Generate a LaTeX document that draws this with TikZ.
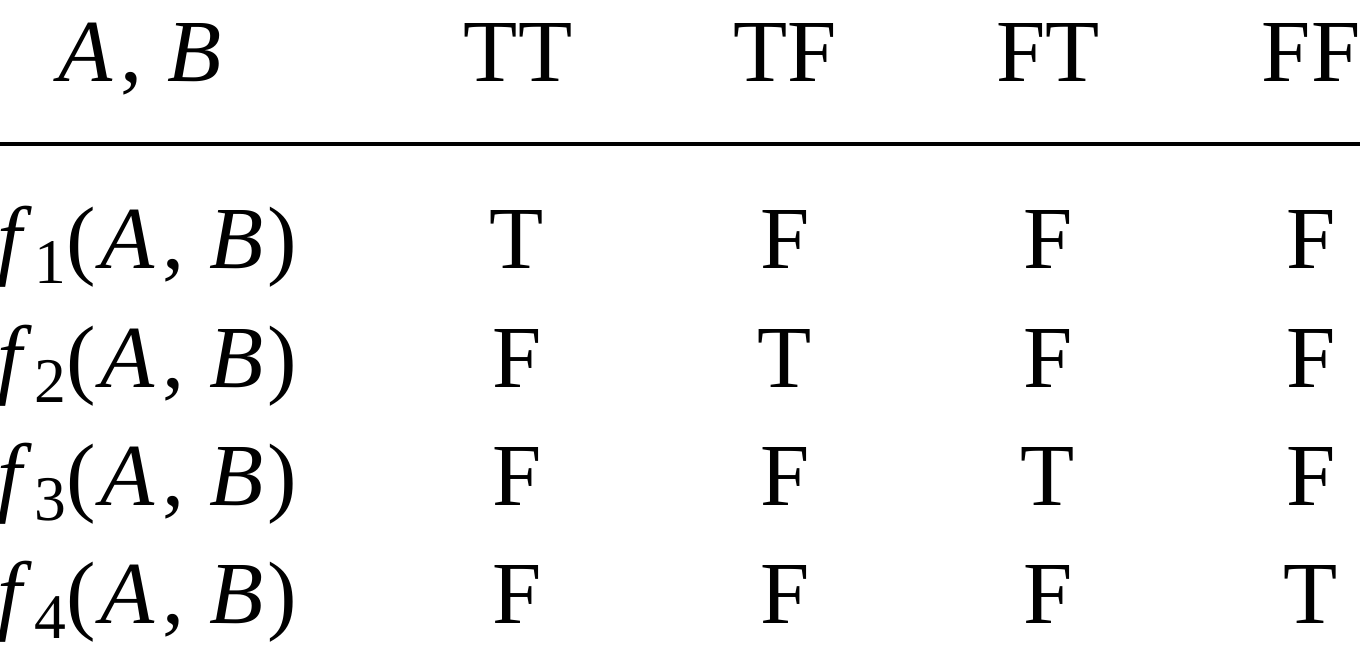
\documentclass[tikz,border=0pt]{standalone}
\usepackage{fontspec}
\setmainfont{Liberation Serif}
\usepackage{tikz}

\newcommand{\AB}{\textit{A}\kern0.08em,\kern0.28em\textit{B}}
\newcommand{\fsub}[1]{\raisebox{-0.17em}{\fontsize{18.1}{20}\selectfont #1}}
\newcommand{\fAB}[1]{\textit{f}\kern0.02em\fsub{#1}(\kern0.06em\AB\kern0.05em)}

\begin{document}
\begin{tikzpicture}[every node/.style={inner sep=0pt,anchor=base,font=\fontsize{25.2}{30}\selectfont},
    lab/.style={anchor=base west}]
    \useasboundingbox (0,0) rectangle (13.6,6.54);
    % header
    \node[lab] (AB) at (0.58,5.73) {\AB};
    \foreach \x/\lab in {5.18/TT,7.85/TF,10.48/FT,13.11/FF} {
      \node (h\lab) at (\x,5.73) {\lab};
    }
    \coordinate (ruleL) at (0,5.10);
    \coordinate (ruleR) at (13.6,5.10);
    \draw[line width=1.15pt] (ruleL) -- (ruleR);
    % rows
    \foreach \n/\y/\a/\b/\c/\d in {1/3.86/T/F/F/F,2/2.67/F/T/F/F,3/1.49/F/F/T/F,4/0.31/F/F/F/T} {
      \node[lab] (f\n) at (-0.03,\y) {\fAB{\n}};
      \node (v\n a) at (5.17,\y) {\a};
      \node (v\n b) at (7.85,\y) {\b};
      \node (v\n c) at (10.48,\y) {\c};
      \node (v\n d) at (13.11,\y) {\d};
    }
\end{tikzpicture}
\end{document}
